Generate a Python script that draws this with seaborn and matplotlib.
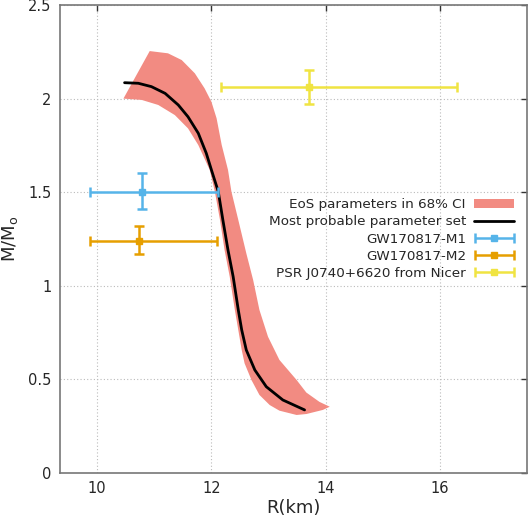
import numpy as np
import seaborn as sns
import matplotlib.pyplot as plt
from matplotlib.patches import Patch
from matplotlib.lines import Line2D
from matplotlib.legend_handler import HandlerErrorbar

# most probable parameter set (mass-radius curve)
r_best = [10.48, 10.72, 10.95, 11.19, 11.42, 11.59, 11.77, 11.91, 12.00, 12.12,
          12.20, 12.29, 12.38, 12.47, 12.53, 12.61, 12.76, 12.96, 13.25, 13.63]
m_best = [2.085, 2.082, 2.064, 2.028, 1.966, 1.903, 1.815, 1.708, 1.619, 1.503,
          1.352, 1.191, 1.049, 0.871, 0.764, 0.657, 0.55, 0.461, 0.39, 0.337]

# 68% CI band: upper/right edge, then lower/left edge back to the start
r_band_hi = [10.92, 11.24, 11.48, 11.71, 11.88, 12.0, 12.09, 12.18, 12.29,
             12.35, 12.47, 12.61, 12.73, 12.84, 12.99, 13.19, 13.49, 13.66,
             13.89, 14.07]
m_band_hi = [2.254, 2.242, 2.206, 2.135, 2.055, 1.983, 1.895, 1.752, 1.619,
             1.503, 1.352, 1.174, 1.031, 0.871, 0.728, 0.604, 0.497, 0.43,
             0.38, 0.354]
r_band_lo = [13.95, 13.66, 13.49, 13.19, 13.02, 12.84, 12.70, 12.58, 12.53,
             12.47, 12.41, 12.32, 12.23, 12.15, 12.06, 11.97, 11.77, 11.59,
             11.36, 11.07, 10.78, 10.46]
m_band_lo = [0.337, 0.315, 0.31, 0.333, 0.363, 0.417, 0.497, 0.586, 0.657,
             0.764, 0.871, 1.049, 1.191, 1.352, 1.503, 1.619, 1.752, 1.841,
             1.912, 1.966, 1.993, 2.0]

# observations: R with -/+ errors, M with -/+ errors
obs_names = ["GW170817-M1", "GW170817-M2", "PSR J0740+6620 from Nicer"]
obs_r = [10.78, 10.74, 13.71]
obs_r_lo = [0.91, 0.87, 1.55]
obs_r_hi = [1.34, 1.36, 2.58]
obs_m = [1.50, 1.24, 2.064]
obs_m_lo = [0.09, 0.07, 0.093]
obs_m_hi = [0.10, 0.08, 0.089]
obs_colors = ["#56b4e9", "#e69f00", "#f0e442"]

sns.set_theme(style="white")
plt.rcParams["font.family"] = ["DejaVu Sans"]
plt.rcParams["mathtext.default"] = "regular"

fig = plt.figure(figsize=(5.29, 5.23), dpi=100)
ax = fig.add_axes([0.1134, 0.0956, 0.8826, 0.8948])

band_color = "#f28b82"
ax.fill(r_band_hi + r_band_lo, m_band_hi + m_band_lo, color=band_color,
        lw=0, zorder=2)
sns.lineplot(x=r_best, y=m_best, sort=False, color="black", lw=2,
             ax=ax, zorder=3)

handles = [Patch(color=band_color, lw=0),
           Line2D([], [], color="black", lw=2)]
for i in range(len(obs_names)):
    ax.errorbar(obs_r[i], obs_m[i],
                xerr=[[obs_r_lo[i]], [obs_r_hi[i]]],
                yerr=[[obs_m_lo[i]], [obs_m_hi[i]]],
                fmt="s", color=obs_colors[i], ms=5, elinewidth=1.8,
                capsize=3.5, capthick=1.8, zorder=4)
    # legend-only handle: horizontal bar with caps
    h = ax.errorbar([np.nan], [np.nan], xerr=[1], fmt="s", color=obs_colors[i],
                    ms=5, elinewidth=1.8, capsize=3.5, capthick=1.8)
    handles.append(h)

labels = ["EoS parameters in 68% CI", "Most probable parameter set"] + obs_names
ax.legend(handles, labels, loc="center right", bbox_to_anchor=(0.985, 0.5),
          frameon=False, markerfirst=False, fontsize=9.7, handlelength=3.0,
          labelspacing=0.3, borderaxespad=0, handletextpad=0.6,
          handler_map={type(handles[-1]): HandlerErrorbar(xerr_size=1.45)})

ax.set_xlim(9.35, 17.52)
ax.set_ylim(0, 2.5)
ax.set_xticks([10, 12, 14, 16])
ax.set_yticks([0, 0.5, 1, 1.5, 2, 2.5])
ax.set_yticklabels(["0", "0.5", "1", "1.5", "2", "2.5"])
ax.grid(True, ls=(0, (1, 2)), color="#bbbbbb", lw=0.8)
ax.tick_params(direction="in", top=True, right=True, length=4, width=1,
               color="#333333", labelsize=10.5, pad=6)
for s in ax.spines.values():
    s.set_color("#777777")
    s.set_linewidth(1.2)

ax.set_xlabel("R(km)", fontsize=13, labelpad=2)
ax.set_ylabel(r"M/M$_{o}$", fontsize=13)
ax.yaxis.set_label_coords(-0.085, 0.5)

fig.savefig("out.png", dpi=100)
